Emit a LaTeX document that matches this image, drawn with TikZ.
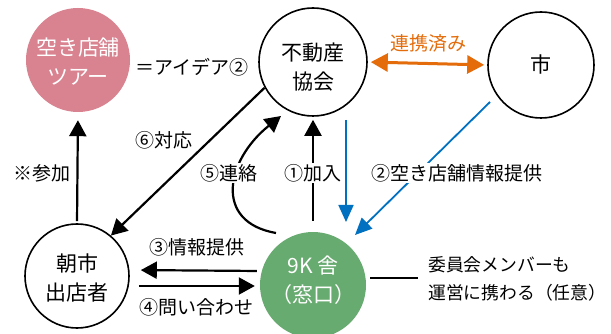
\documentclass[tikz,border=0pt]{standalone}
\usepackage{fontspec}
\setmainfont{Noto Sans CJK JP}
\usetikzlibrary{arrows.meta,calc}
\definecolor{pinkc}{RGB}{217,130,144}
\definecolor{greenc}{RGB}{104,171,112}
\definecolor{orangec}{RGB}{228,108,10}
\definecolor{bluec}{RGB}{0,112,192}
\begin{document}
\begin{tikzpicture}[x=1pt,y=-1pt,
  ntext/.style={align=center,inner sep=0pt,font=\fontsize{21}{29.5}\selectfont},
  circ/.style={circle,draw,line width=1.6pt,inner sep=0pt},
  fillc/.style={circle,inner sep=0pt},
  lbl/.style={font=\fontsize{19}{28}\selectfont,inner sep=1pt},
  notestyle/.style={font=\fontsize{17.8}{28}\selectfont,inner sep=0pt,anchor=west,align=left},
  arr/.style={line width=2.2pt,-{Triangle[length=16pt,width=17pt]}},
  barr/.style={bluec,line width=1.8pt,-{Triangle[length=17pt,width=15pt]}},
  oarr/.style={orangec,line width=3pt,{Triangle[length=17pt,width=18pt]}-{Triangle[length=17pt,width=18pt]}}
]
\useasboundingbox[fill=white] (0,0) rectangle (611,334);

\node[fillc,fill=pinkc,minimum size=104pt] (tour) at (78,60) {};
\node[circ,minimum size=108pt] (fudo) at (313,62) {};
\node[circ,minimum size=106pt] (shi) at (541,65) {};
\node[circ,minimum size=104pt] (asa) at (77,276) {};
\node[fillc,fill=greenc,minimum size=106pt] (kk) at (313,285) {};

\node[ntext,text=white] (tourt) at ($(tour.center)+(0,1.5)$) {空き店舗\\ツアー};
\node[ntext] (fudot) at ($(fudo.center)+(0,5)$) {不動産\\協会};
\node[ntext] (shit) at (shi.center) {市};
\node[ntext] (asat) at ($(asa.center)+(0,2)$) {朝市\\出店者};
\node[ntext,text=white] (kkt) at ($(kk.center)+(0,-5)$) {9K 舎\\（窓口）};

% free ends
\coordinate (b1s) at (346,120);
\coordinate (b1e) at (346,222);
\coordinate (b2s) at (490,102);
\coordinate (b2e) at (355,235);
\coordinate (c5s) at (276,233);
\coordinate (c5e) at (281,116);
\coordinate (memo) at (418,278);

% connectors
\draw[oarr,shorten <=3pt,shorten >=3pt] (fudo.east) -- (shi.west);
\draw[barr] (b1s) -- (b1e);
\draw[barr] (b2s) -- (b2e);
\draw[arr,shorten <=11pt,shorten >=3pt] (kk.north) -- (fudo.south);
\draw[arr,shorten <=2pt,shorten >=8pt] (asa.north) -- (tour.south);
\draw[arr] (fudo.208) -- (asa.50);
\draw[arr] (c5s) .. controls (213,222) and (226,160) .. (c5e);
\draw[arr,shorten <=3pt,shorten >=11pt] ([yshift=14pt]kk.west) -- ([yshift=6pt]asa.east);
\draw[arr,shorten <=9pt,shorten >=5pt] ([yshift=-10pt]asa.east) -- ([yshift=-1pt]kk.west);
\draw[line width=2pt,shorten <=4pt] (kk.east |- memo) -- (memo);

% labels
\node[lbl] (l0) at (192,67) {＝アイデア②};
\node[lbl,text=orangec] (l1) at (428,43) {連携済み};
\node[lbl] (l6) at (164,140) {⑥対応};
\node[lbl] (lsan) at (42,173) {※参加};
\node[lbl,fill=white] (l5) at (229,173) {⑤連絡};
\node[lbl,fill=white] (l1b) at (313,173) {①加入};
\node[lbl,fill=white] (l2) at (457,173) {②空き店舗情報提供};
\node[lbl] (l3) at (197,247) {③情報提供};
\node[lbl] (l4) at (196,307) {④問い合わせ};
\node[notestyle] (note) at (428,279) {委員会メンバーも\\運営に携わる（任意）};
\end{tikzpicture}
\end{document}
